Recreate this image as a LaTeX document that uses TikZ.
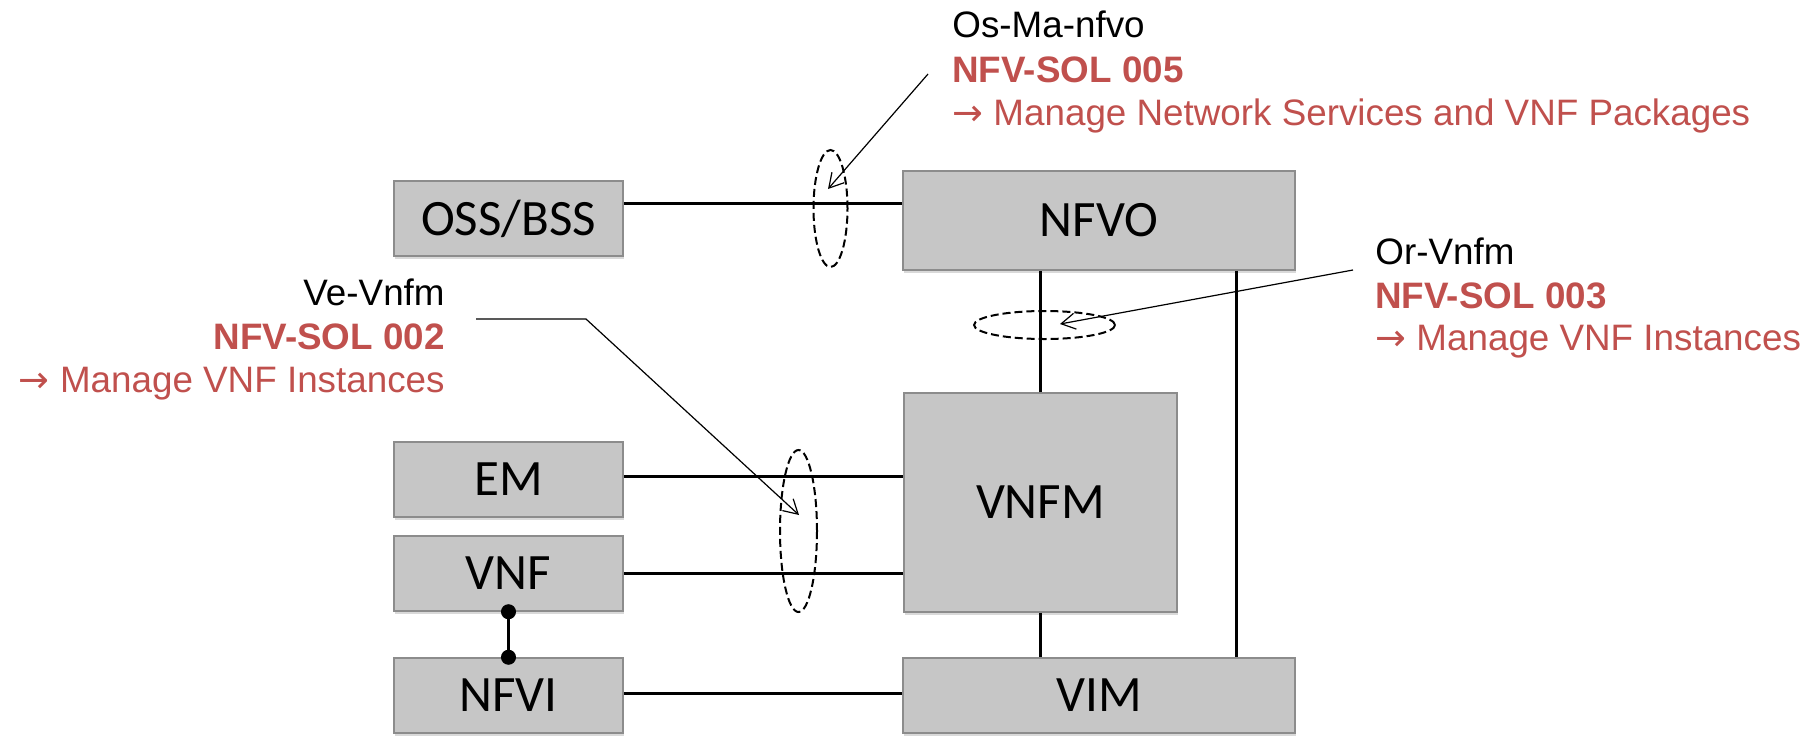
\documentclass[tikz,border=0pt]{standalone}
\usepackage{fontspec}
\setmainfont{Liberation Sans}
\newfontfamily\boxfont{Carlito}
\newfontfamily\arrowfont{DejaVu Sans}
\usepackage{xcolor}
\usepackage{tikz}
\usetikzlibrary{arrows.meta}
\usetikzlibrary{calc}
\usetikzlibrary{positioning}
\usetikzlibrary{shadows}
\usetikzlibrary{shapes.geometric}

\definecolor{solred}{HTML}{C0504D}
\definecolor{boxgray}{HTML}{C6C6C6}
\definecolor{boxline}{HTML}{8C8C8C}

\newcommand{\manage}{{\arrowfont →}\ Manage}

\begin{document}
\begin{tikzpicture}
[
	x = 0.5pt, y = -0.5pt,
	block/.style = {rectangle, draw = boxline, line width = 0.75pt, fill = boxgray, inner sep = 0pt, font = \boxfont\fontsize{25.5pt}{30pt}\selectfont, drop shadow = {shadow xshift = 0.6pt, shadow yshift = -1.4pt, opacity = 0.3}},
	small/.style = {block, minimum width = 114.5pt, minimum height = 37.5pt},
	wide/.style = {block, minimum width = 196pt},
	link/.style = {line width = 1.7pt},
	iface/.style = {ellipse, draw, dash pattern = on 4pt off 2pt, line width = 1pt, inner sep = 0pt},
	pointer/.style = {-{Straight Barb[length = 7pt, width = 8pt]}, line width = 0.6pt},
	ifname/.style = {inner sep = 0pt, font = \fontsize{18.4pt}{22pt}\selectfont},
	solname/.style = {ifname, text = solred, font = \bfseries\fontsize{18.4pt}{22pt}\selectfont},
	soltask/.style = {ifname, text = solred},
	node distance = 8.75pt,
]
	\useasboundingbox (0, 0) rectangle (1817, 735);

	% boxes
	\node (OSS) [small] at (508.5, 218.5) {OSS/BSS};
	\node (EM) [small] at (508.5, 479.5) {EM};
	\node (VNF) [small, below = of EM] {VNF};
	\node (NFVI) [small, below = 22.75pt of VNF] {NFVI};
	%
	\node (NFVO) [wide, minimum height = 49.5pt] at (1099, 220.5) {NFVO};
	\node (VNFM) [block, minimum width = 136.5pt, minimum height = 109.5pt] at (1040.5, 502.5) {VNFM};
	\node (VIM) [wide, minimum height = 37.5pt] at (1099, 695.5) {VIM};

	% links
	\draw [link] ([yshift = 7.5pt]OSS.east) -- ([yshift = 7.5pt]OSS.east -| NFVO.west);
	\draw [link] ([yshift = 1.5pt]EM.east) -- ([yshift = 1.5pt]EM.east -| VNFM.west);
	\draw [link] (VNF.east) -- (VNF.east -| VNFM.west);
	\draw [link] ([yshift = 1pt]NFVI.east) -- ([yshift = 1pt]NFVI.east -| VIM.west);
	%
	\draw [link] (VNFM.north) -- (VNFM.north |- NFVO.south);
	\draw [link] (VNFM.south) -- (VNFM.south |- VIM.north);
	\draw [link] ([xshift = -29.5pt]NFVO.south east) -- ([xshift = -29.5pt]NFVO.south east |- VIM.north);
	\draw [link, {Circle[length = 7.5pt]}-{Circle[length = 7.5pt]}, shorten < = -3.75pt, shorten > = -3.75pt] (VNF.south) -- (NFVI.north);

	% interfaces
	\node (osma) [iface, minimum width = 17pt, minimum height = 58.5pt] at (830.5, 208.5) {};
	\node (orvnfm) [iface, minimum width = 70.5pt, minimum height = 14pt] at (1044.5, 325) {};
	\node (vevnfm) [iface, minimum width = 18.5pt, minimum height = 81pt] at (798.5, 531) {};

	% Os-Ma-nfvo
	\node (osmaname) [ifname, anchor = base west] at (952, 37) {Os-Ma-nfvo};
	\node (osmasol) [solname, anchor = base west] at (952, 82) {NFV-SOL 005};
	\node (osmatask) [soltask, anchor = base west] at (952, 125) {\manage\ Network Services and VNF Packages};
	\coordinate (osmafoot) at (928, 74);
	\draw [pointer] (osmafoot) -- ($(osma.center) + (-2.5, -19.5)$);

	% Or-Vnfm
	\node (orvnfmname) [ifname, anchor = base west] at (1375, 264) {Or-Vnfm};
	\node (orvnfmsol) [solname, anchor = base west] at (1375, 308) {NFV-SOL 003};
	\node (orvnfmtask) [soltask, anchor = base west] at (1375, 350) {\manage\ VNF Instances};
	\coordinate (orvnfmfoot) at (1353, 270);
	\draw [pointer] (orvnfmfoot) -- ($(orvnfm.center) + (15.5, -1)$);

	% Ve-Vnfm
	\node (vevnfmname) [ifname, anchor = base east] at (445, 305) {Ve-Vnfm};
	\node (vevnfmsol) [solname, anchor = base east] at (445, 349) {NFV-SOL 002};
	\node (vevnfmtask) [soltask, anchor = base east] at (445, 392) {\manage\ VNF Instances};
	\coordinate (vevnfmfoot) at (476, 319);
	\coordinate (vevnfmbend) at (586, 319);
	\draw [pointer] (vevnfmfoot) -- (vevnfmbend) -- ($(vevnfm.center) + (0.5, -16)$);

\end{tikzpicture}
\end{document}
